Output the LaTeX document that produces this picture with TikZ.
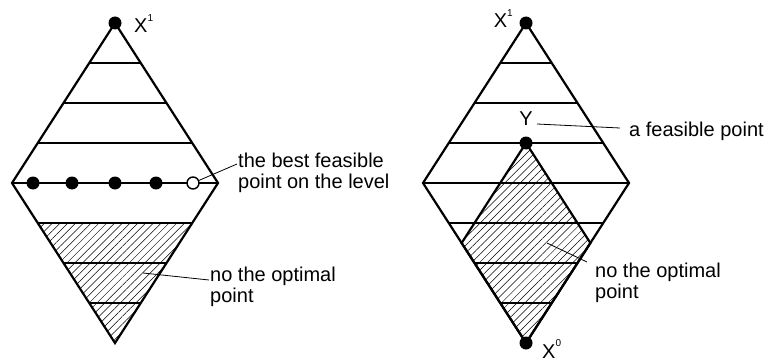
\documentclass[tikz,border=0pt]{standalone}
\usepackage{fontspec}
\setmainfont{Liberation Sans}
\usetikzlibrary{calc,patterns.meta}
\newcommand{\supnum}[1]{\raisebox{1.1ex}{\fontsize{10}{10}\selectfont #1}}

\begin{document}
\begin{tikzpicture}[
    x=1pt, y=-1pt,
    edge/.style={line width=2.2pt, line join=miter},
    level/.style={line width=1.8pt},
    hatch/.style={pattern={Lines[angle=45,distance=5.5pt,line width=0.5pt]}},
    dot/.style={circle, fill=black, inner sep=0pt, minimum size=13pt},
    opendot/.style={circle, draw, line width=1.4pt, fill=white, inner sep=0pt, minimum size=12pt},
    lbl/.style={font=\fontsize{20}{21}\selectfont, inner sep=0pt, align=left, anchor=base west},
    leader/.style={line width=0.8pt}
]
\useasboundingbox (0,0) rectangle (768,361);

% left diamond
\coordinate (lt) at (115,23);
\coordinate (ll) at (12,183);
\coordinate (lb) at (115,343);
\coordinate (lr) at (218,183);

\fill[hatch] ($(ll)!1/4!(lb)$) -- ($(lr)!1/4!(lb)$) -- (lb) -- cycle;
\foreach \k in {1,2,3} {
    \draw[level] ($(lt)!\k/4!(ll)$) -- ($(lt)!\k/4!(lr)$);
    \draw[level] ($(ll)!\k/4!(lb)$) -- ($(lr)!\k/4!(lb)$);
}
\draw[level] (ll) -- (lr);
\draw[edge] (lt) -- (lr) -- (lb) -- (ll) -- cycle;

\node[dot] (tl) at (lt) {};
\node[dot] (d1) at (33,183) {};
\node[dot] (d2) at (72,183) {};
\node[dot] (d3) at (115,183) {};
\node[dot] (d4) at (156,183) {};
\node[opendot] (best) at (193,183) {};

% base = last line
\node[lbl] (x1l) at (134,33) {X\supnum{1}};
\node[lbl] (tbest) at (238,188) {the best feasible\\point on the level};
\node[lbl] (tnol) at (210,302) {no the optimal\\point};

\coordinate (bestend) at (237,164);
\coordinate (nolstart) at (143,273);
\coordinate (nolend) at (209,280);
\draw[leader] (best) -- (bestend);
\draw[leader] (nolstart) -- (nolend);

% right diamond
\coordinate (rt) at (526,23);
\coordinate (rl) at (423,183);
\coordinate (rb) at (526,343);
\coordinate (rr) at (629,183);

\fill[hatch] ($(rb)!5/8!(rt)$) -- ($(rb)!5/8!(rr)$) -- (rb) -- ($(rb)!5/8!(rl)$) -- cycle;
\foreach \k in {1,2,3} {
    \draw[level] ($(rt)!\k/4!(rl)$) -- ($(rt)!\k/4!(rr)$);
    \draw[level] ($(rl)!\k/4!(rb)$) -- ($(rr)!\k/4!(rb)$);
}
\draw[level] (rl) -- (rr);
\draw[edge] ($(rb)!5/8!(rt)$) -- ($(rb)!5/8!(rr)$) -- (rb) -- ($(rb)!5/8!(rl)$) -- cycle;
\draw[edge] (rt) -- (rr) -- (rb) -- (rl) -- cycle;

\node[dot] (tr) at (rt) {};
\node[dot] (ypt) at ($(rb)!5/8!(rt)$) {};
\node[dot] (br) at (rb) {};

\node[lbl, anchor=base east] (x1r) at (513,28) {X\supnum{1}};
\node[lbl, anchor=base] (ylab) at (526,125) {Y};
\node[lbl] (x0) at (542,358) {X\supnum{0}};
\node[lbl] (tfeas) at (629,136) {a feasible point};
\node[lbl] (tnor) at (595,298) {no the optimal\\point};

\coordinate (feasstart) at (537,124);
\coordinate (feasend) at (620,128);
\coordinate (norstart) at (547,243);
\coordinate (norend) at (587,262);
\draw[leader] (feasstart) -- (feasend);
\draw[leader] (norstart) -- (norend);
\end{tikzpicture}
\end{document}
